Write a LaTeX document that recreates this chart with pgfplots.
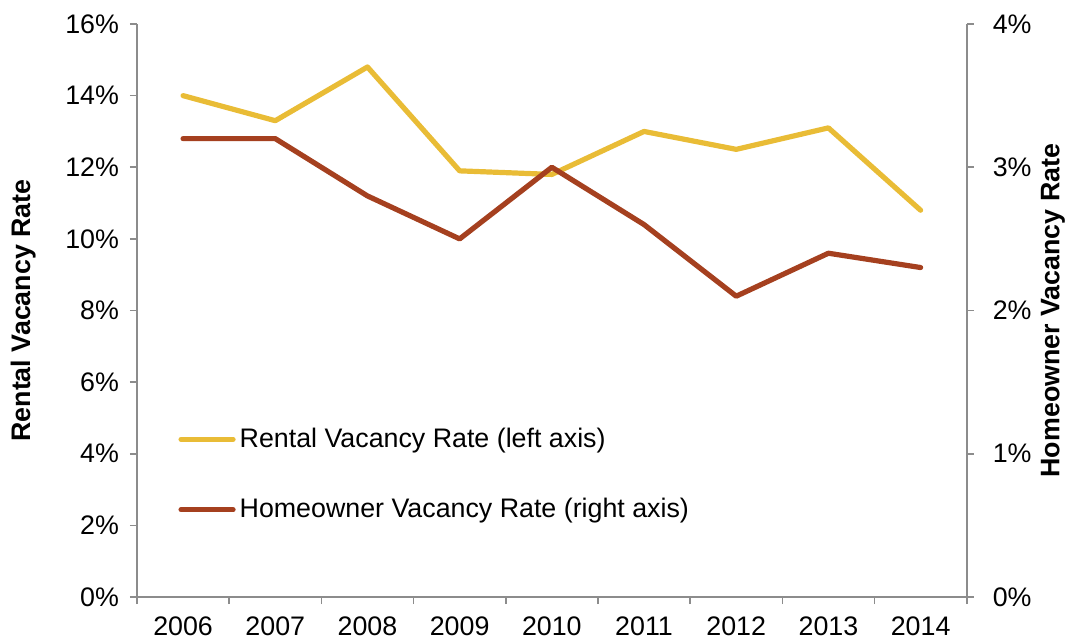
\documentclass[border=0pt]{standalone}
\usepackage{fontspec}
\setmainfont{Liberation Sans}
\usepackage{pgfplots}
\pgfplotsset{compat=1.18}
\definecolor{rental}{HTML}{E9BC36}
\definecolor{homeowner}{HTML}{A5401F}
\definecolor{axisgray}{HTML}{8C8C8C}

\begin{document}
\begin{tikzpicture}
\pgfplotsset{
    every axis/.append style={
        scale only axis,
        width=414.85pt, height=286.5pt,
        xmin=-0.5, xmax=8.5,
        font=\fontsize{13.4}{16}\selectfont,
        tick align=outside,
        major tick length=3.5pt,
        minor tick length=3.5pt,
        every tick/.style={axisgray, line width=0.8pt},
        axis line style={axisgray, line width=0.8pt},
        /pgf/number format/assume math mode=true,
        clip=false,
    },
    serie/.style={line width=2.6pt, line cap=round, line join=round},
}
\begin{axis}[
    axis y line*=left,
    axis x line*=bottom,
    ymin=0, ymax=16,
    ytick={0,2,...,16},
    yticklabel={\pgfmathprintnumber{\tick}\%},
    yticklabel style={xshift=-2pt},
    xtick={0,...,8},
    xticklabels={2006,2007,2008,2009,2010,2011,2012,2013,2014},
    xticklabel style={yshift=-6pt, inner sep=0pt},
    major x tick style={draw=none},
    minor xtick={-0.5,0.5,...,8.5},
    ylabel={\bfseries Rental Vacancy Rate},
    y label style={at={(axis description cs:-0.137,0.5)}, anchor=center},
]
\addplot[serie, color=rental] coordinates {
    (0,14.0) (1,13.3) (2,14.8) (3,11.9) (4,11.8)
    (5,13.0) (6,12.5) (7,13.1) (8,10.8)
};
\coordinate (bl) at (axis description cs:-0.1651,-0.0785);
\coordinate (tr) at (axis description cs:1.1209,1.0419);
\end{axis}
\begin{axis}[
    axis y line*=right,
    axis x line=none,
    ymin=0, ymax=4,
    ytick={0,1,...,4},
    yticklabel={\pgfmathprintnumber{\tick}\%},
    yticklabel style={xshift=6pt},
    ylabel={\bfseries Homeowner Vacancy Rate},
    y label style={at={(axis description cs:1.104,0.5)}, anchor=center, inner sep=0pt},
    legend style={draw=none, fill=none, at={(axis description cs:0.0495,0.2138)},
        anchor=west, inner sep=0pt, row sep=20pt,
        font=\fontsize{13.4}{16}\selectfont},
    legend cell align=left,
    legend image code/.code={\draw[#1] (0pt,0pt) -- (26pt,0pt);},
]
\addlegendimage{serie, color=rental}
\addlegendentry{Rental Vacancy Rate (left axis)}
\addplot[serie, color=homeowner] coordinates {
    (0,3.2) (1,3.2) (2,2.8) (3,2.5) (4,3.0)
    (5,2.6) (6,2.1) (7,2.4) (8,2.3)
};
\addlegendentry{Homeowner Vacancy Rate (right axis)}
\end{axis}
\path[use as bounding box] (bl) rectangle (tr);
\end{tikzpicture}
\end{document}
